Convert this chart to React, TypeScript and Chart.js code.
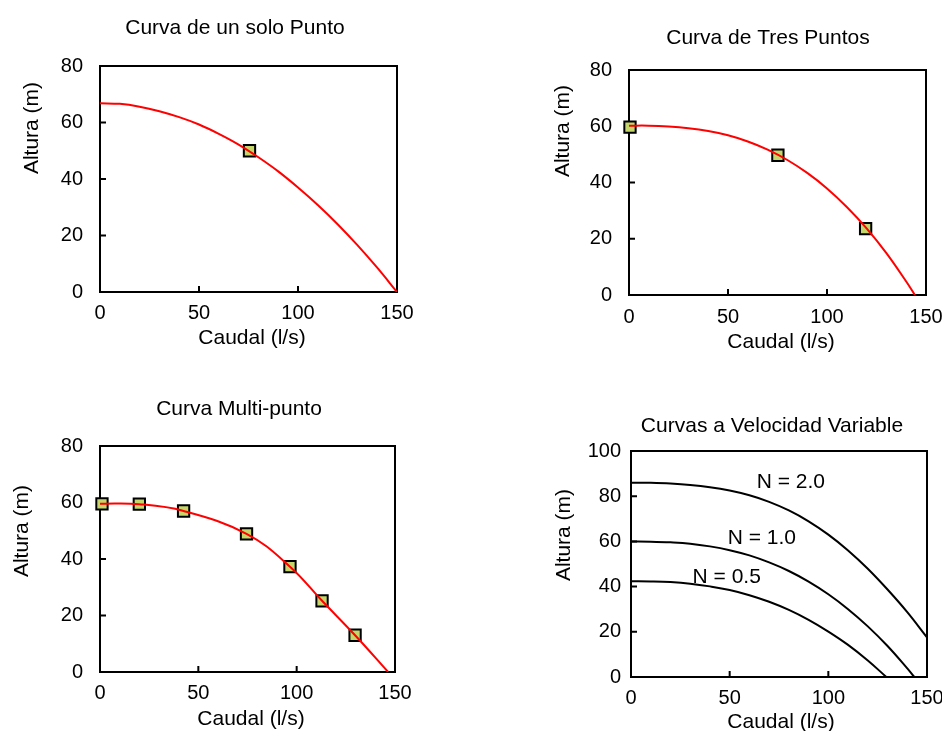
import React, { useEffect, useRef } from 'react';
import { Chart, registerables } from 'chart.js';

Chart.register(...registerables);

const PAGE_W = 942;
const PAGE_H = 731;
const CANVAS_W = 1000;
const CANVAS_H = 760;
const FONT = '"Liberation Sans", Arial, Helvetica, sans-serif';

// ---------- Data ----------
// Panel 1: Curva de un solo Punto
const caudalUnPunto = [0, 10, 20, 30, 40, 50, 60, 70, 80, 90, 100, 110, 120, 130, 140, 150];
const alturaUnPunto = [66.8, 66.6, 65.6, 64.0, 61.9, 59.3, 56.0, 52.2, 47.7, 42.7, 37.0, 30.8, 24.0, 16.6, 8.6, 0];
const puntoUnCaudal = [75.5];
const puntoUnAltura = [50.0];

// Panel 2: Curva de Tres Puntos
const caudalTres = [0, 10, 20, 30, 40, 50, 60, 70, 80, 90, 100, 110, 120, 130, 140, 144.4];
const alturaTres = [60.2, 60.2, 59.9, 59.3, 58.3, 56.8, 54.6, 51.7, 48.0, 43.4, 37.9, 31.3, 23.7, 14.9, 4.8, 0];
const puntosTresCaudal = [0.5, 75.2, 119.5];
const puntosTresAltura = [59.7, 49.7, 23.6];

// Panel 3: Curva Multi-punto
const caudalCurvaMulti = [0, 20, 42.5, 74.5, 96.6, 112.9, 129.7, 146.5];
const alturaCurvaMulti = [59.6, 59.4, 57.0, 48.9, 37.3, 25.2, 13.0, 0];
const puntosMultiCaudal = [1, 20, 42.5, 74.5, 96.6, 112.9, 129.7];
const puntosMultiAltura = [59.5, 59.4, 57.0, 48.9, 37.3, 25.2, 13.0];

// Panel 4: Curvas a Velocidad Variable
const caudalN20 = [0, 10, 20, 30, 40, 50, 60, 70, 80, 90, 100, 110, 120, 130, 140, 150];
const alturaN20 = [86.0, 85.9, 85.6, 85.0, 84.0, 82.5, 80.4, 77.5, 73.7, 68.9, 63.0, 56.0, 47.9, 38.7, 28.7, 17.5];
const caudalN10 = [0, 10, 20, 30, 40, 50, 60, 70, 80, 90, 100, 110, 120, 130, 140, 143.6];
const alturaN10 = [60.0, 59.9, 59.6, 59.0, 57.8, 56.1, 53.8, 50.7, 46.9, 42.2, 36.6, 30.0, 22.4, 13.7, 3.8, 0];
const caudalN05 = [0, 10, 20, 30, 40, 50, 60, 70, 80, 90, 100, 110, 120, 129.4];
const alturaN05 = [42.4, 42.3, 42.0, 41.3, 40.1, 38.5, 36.2, 33.3, 29.7, 25.3, 20.1, 14.2, 7.3, 0];
const etiquetasN = ['N = 2.0', 'N = 1.0', 'N = 0.5'];
const etiquetasCaudal = [81, 66.3, 48.5];
const etiquetasAltura = [86, 61.6, 44.1];

// Axis ticks / titles
const xMax = 150;
const xStep = 50;
const yStep = 20;
const xTitle = 'Caudal (l/s)';
const yTitle = 'Altura (m)';

// ---------- Helpers ----------
const zip = (xs: number[], ys: number[]) => xs.map((x, i) => ({ x, y: ys[i] }));

const RED = '#ff0000';
const MARKER_FILL = '#c5d76b';

type Pos = { x: number; y: number };
type Spec = {
  area: { l: number; t: number; r: number; b: number };
  yMax: number;
  yPad: number;
  xPad: number;
  title: string;
  titlePos: Pos;
  xTitlePos: Pos;
  yTitlePos: Pos;
  datasets: any[];
  notes?: { text: string; q: number; h: number }[];
};

const Y_W = 60;
const X_H = 40;

function makePlugin(spec: Spec) {
  return {
    id: 'panelDecor',
    beforeDatasetsDraw(chart: any) {
      const { ctx, chartArea } = chart;
      const { left, right, top, bottom } = chartArea;
      const xs = chart.scales.x;
      const ys = chart.scales.y;
      ctx.save();
      ctx.strokeStyle = '#000';
      ctx.lineWidth = 2;
      ctx.beginPath();
      xs.ticks.forEach((t: any) => {
        const px = xs.getPixelForValue(t.value);
        ctx.moveTo(px, bottom);
        ctx.lineTo(px, bottom - 6);
      });
      ys.ticks.forEach((t: any) => {
        const py = ys.getPixelForValue(t.value);
        ctx.moveTo(left, py);
        ctx.lineTo(left + 6, py);
      });
      ctx.stroke();
      ctx.strokeRect(left, top, right - left, bottom - top);
      ctx.restore();
    },
    afterDraw(chart: any) {
      const { ctx } = chart;
      ctx.save();
      ctx.fillStyle = '#000';
      ctx.font = `21px ${FONT}`;
      ctx.textAlign = 'center';
      ctx.textBaseline = 'alphabetic';
      ctx.fillText(spec.title, spec.titlePos.x, spec.titlePos.y);
      ctx.fillText(xTitle, spec.xTitlePos.x, spec.xTitlePos.y);
      ctx.save();
      ctx.translate(spec.yTitlePos.x, spec.yTitlePos.y);
      ctx.rotate(-Math.PI / 2);
      ctx.fillText(yTitle, 0, 0);
      ctx.restore();
      if (spec.notes) {
        const xs = chart.scales.x;
        const ys = chart.scales.y;
        ctx.textBaseline = 'middle';
        spec.notes.forEach((n) => {
          ctx.fillText(n.text, xs.getPixelForValue(n.q), ys.getPixelForValue(n.h));
        });
      }
      ctx.restore();
    },
  };
}

function buildConfig(spec: Spec): any {
  const { l, t, r, b } = spec.area;
  return {
    type: 'line',
    data: { datasets: spec.datasets },
    options: {
      animation: false,
      responsive: false,
      events: [],
      layout: {
        autoPadding: false,
        padding: { left: l - Y_W, top: t, right: CANVAS_W - r, bottom: CANVAS_H - b - X_H },
      },
      plugins: {
        legend: { display: false },
        tooltip: { enabled: false },
        title: { display: false },
      },
      scales: {
        x: {
          type: 'linear',
          min: 0,
          max: xMax,
          afterFit: (s: any) => {
            s.height = X_H;
          },
          grid: { display: false, drawTicks: false },
          border: { display: false },
          ticks: {
            stepSize: xStep,
            autoSkip: false,
            maxRotation: 0,
            padding: spec.xPad,
            color: '#000',
            font: { family: FONT, size: 20 },
          },
        },
        y: {
          type: 'linear',
          min: 0,
          max: spec.yMax,
          afterFit: (s: any) => {
            s.width = Y_W;
          },
          grid: { display: false, drawTicks: false },
          border: { display: false },
          ticks: {
            stepSize: yStep,
            padding: spec.yPad,
            color: '#000',
            font: { family: FONT, size: 20 },
          },
        },
      },
    },
    plugins: [makePlugin(spec)],
  };
}

const curve = (xs: number[], ys: number[], color: string) => ({
  data: zip(xs, ys),
  borderColor: color,
  borderWidth: 2,
  pointRadius: 0,
  fill: false,
  tension: 0.4,
  cubicInterpolationMode: 'default',
});

const markers = (xs: number[], ys: number[]) => ({
  data: zip(xs, ys),
  showLine: false,
  pointStyle: 'rect',
  pointRadius: 8,
  pointBorderWidth: 2,
  pointBackgroundColor: MARKER_FILL,
  pointBorderColor: '#000',
  borderColor: '#000',
  backgroundColor: MARKER_FILL,
  clip: false,
});

const specs: Spec[] = [
  {
    area: { l: 100, t: 66, r: 397, b: 292 },
    yMax: 80,
    yPad: 17,
    xPad: 9,
    title: 'Curva de un solo Punto',
    titlePos: { x: 235, y: 34 },
    xTitlePos: { x: 252, y: 344 },
    yTitlePos: { x: 38, y: 128 },
    datasets: [curve(caudalUnPunto, alturaUnPunto, RED), markers(puntoUnCaudal, puntoUnAltura)],
  },
  {
    area: { l: 629, t: 70, r: 926, b: 295 },
    yMax: 80,
    yPad: 17,
    xPad: 10,
    title: 'Curva de Tres Puntos',
    titlePos: { x: 768, y: 44 },
    xTitlePos: { x: 781, y: 348 },
    yTitlePos: { x: 569, y: 131 },
    datasets: [curve(caudalTres, alturaTres, RED), markers(puntosTresCaudal, puntosTresAltura)],
  },
  {
    area: { l: 100, t: 446, r: 395, b: 672 },
    yMax: 80,
    yPad: 17,
    xPad: 9,
    title: 'Curva Multi-punto',
    titlePos: { x: 239, y: 415 },
    xTitlePos: { x: 251, y: 725 },
    yTitlePos: { x: 28, y: 531 },
    datasets: [curve(caudalCurvaMulti, alturaCurvaMulti, RED), markers(puntosMultiCaudal, puntosMultiAltura)],
  },
  {
    area: { l: 631, t: 451, r: 927, b: 677 },
    yMax: 100,
    yPad: 10,
    xPad: 9,
    title: 'Curvas a Velocidad Variable',
    titlePos: { x: 772, y: 432 },
    xTitlePos: { x: 781, y: 728 },
    yTitlePos: { x: 570, y: 535 },
    datasets: [
      curve(caudalN20, alturaN20, '#000'),
      curve(caudalN10, alturaN10, '#000'),
      curve(caudalN05, alturaN05, '#000'),
    ],
    notes: etiquetasN.map((text, i) => ({ text, q: etiquetasCaudal[i], h: etiquetasAltura[i] })),
  },
];

function Panel({ spec }: { spec: Spec }) {
  const ref = useRef<HTMLCanvasElement | null>(null);
  useEffect(() => {
    if (!ref.current) return;
    const chart = new Chart(ref.current, buildConfig(spec));
    return () => chart.destroy();
  }, [spec]);
  return (
    <canvas
      ref={ref}
      width={CANVAS_W}
      height={CANVAS_H}
      style={{ position: 'absolute', left: 0, top: 0, width: CANVAS_W, height: CANVAS_H }}
    />
  );
}

export default function App() {
  return (
    <div
      style={{
        position: 'absolute',
        left: 0,
        top: 0,
        width: PAGE_W,
        height: PAGE_H,
        background: '#fff',
        overflow: 'hidden',
      }}
    >
      {specs.map((s, i) => (
        <Panel key={i} spec={s} />
      ))}
    </div>
  );
}
